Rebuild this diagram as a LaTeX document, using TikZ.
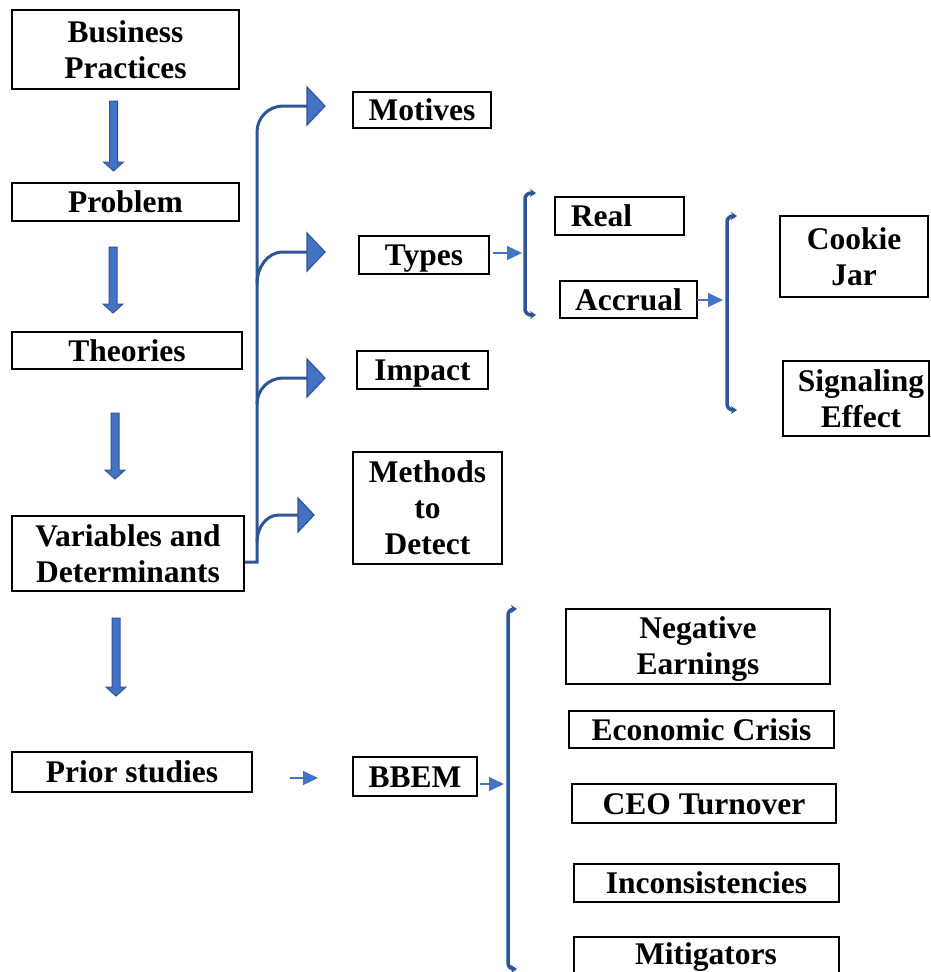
\documentclass[tikz,border=0pt]{standalone}
\usepackage{fontspec}
\setmainfont{Liberation Serif}
\usetikzlibrary{arrows.meta,calc}
\definecolor{dkblue}{HTML}{2F5597}
\definecolor{mdblue}{HTML}{4472C4}
\newcommand{\dnarr}[3]{%
  \filldraw[fill=mdblue,draw=dkblue,line width=1pt,line join=miter]
    ({#1-4},#2) -- ({#1+4},#2) -- ({#1+4},{#3-9}) -- ({#1+10},{#3-9})
    -- (#1,#3) -- ({#1-10},{#3-9}) -- ({#1-4},{#3-9}) -- cycle;}
\newcommand{\bigtri}[4]{% tip x, y, length, half-height
  \filldraw[fill=mdblue,draw=dkblue,line width=1.2pt,line join=miter]
    ({#1-#3},{#2-#4}) -- (#1,#2) -- ({#1-#3},{#2+#4}) -- cycle;}
\tikzset{
  box/.style={draw=black,line width=2pt,inner sep=0pt,align=center,
    font=\bfseries\fontsize{31.5}{36}\selectfont},
  one/.style={box,text height=27pt,text depth=6pt},
  trunk/.style={draw=dkblue,line width=3pt},
  brk/.style={draw=dkblue,line width=3.5pt,rounded corners=6pt,
    {Stealth[length=6pt 0 0,width=8pt 0 0]}-{Stealth[length=6pt 0 0,width=8pt 0 0]}},
  thin/.style={draw=mdblue,line width=1.3pt,-{Triangle[length=15pt 0 0,width=14pt 0 0]}}
}
\begin{document}
\begin{tikzpicture}[x=1pt,y=-1pt]
\clip (0,0) rectangle (930,972);
\fill[white] (0,0) rectangle (930,972);
% left column
\node[box,minimum width=227pt,minimum height=79pt] (bp) at (125.5,49.5) {Business\\Practices};
\node[one,minimum width=227pt,minimum height=38pt] (prob) at (125.5,202) {Problem};
\node[one,minimum width=230pt,minimum height=37pt] (theo) at (127,350.5) {Theories};
\node[box,minimum width=232pt,minimum height=75pt] (vard) at (128,553.5) {Variables and\\Determinants};
\node[one,minimum width=240pt,minimum height=40pt] (prior) at (132,772) {Prior studies};
% middle column
\node[one,minimum width=138pt,minimum height=36pt] (mot) at (422,110) {Motives};
\node[one,minimum width=130pt,minimum height=38pt] (types) at (424,255) {Types};
\node[one,minimum width=131pt,minimum height=38pt] (imp) at (422.5,370) {Impact};
\node[box,minimum width=149pt,minimum height=112pt] (meth) at (427.5,508) {Methods\\to\\Detect};
\node[one,minimum width=124pt,minimum height=39pt] (bbem) at (415,776.5) {BBEM};
% types column
\node[one,minimum width=129pt,minimum height=38pt] (real) at (619.5,216) {Real\hspace{36pt}};
\node[one,minimum width=137pt,minimum height=37pt] (accr) at (628.5,299.5) {Accrual};
\node[box,minimum width=148pt,minimum height=81pt] (cookie) at (854,256.5) {Cookie\\Jar};
\node[box,minimum width=146pt,minimum height=75pt] (sig) at (856,398.5) {\hspace{10pt}Signaling\\\hspace{10pt}Effect};
% BBEM items
\node[box,minimum width=264pt,minimum height=75pt] (neg) at (698,646.5) {\rule{0pt}{27pt}Negative\\Earnings};
\node[one,minimum width=265pt,minimum height=37pt] (eco) at (701.5,729.5) {Economic Crisis};
\node[one,minimum width=264pt,minimum height=39pt] (ceo) at (704,803.5) {CEO Turnover};
\node[one,minimum width=265pt,minimum height=38pt] (inc) at (706.5,883) {Inconsistencies};
\node[draw=black,line width=2pt,minimum width=265pt,minimum height=39pt] (mit) at (706.5,956.5) {};
\node[font=\bfseries\fontsize{31.5}{36}\selectfont,inner sep=0pt,anchor=base] (mittx) at (706,964) {Mitigators};
% down block arrows
\dnarr{113.5}{101}{171}
\dnarr{113}{247}{313}
\dnarr{115}{413}{479}
\dnarr{116}{618}{696}
% trunk from Variables and Determinants
\coordinate (tA) at (307,106);
\coordinate (tB) at (307,252);
\coordinate (tC) at (307,378);
\coordinate (tD) at (298,515);
\draw[trunk] ($(vard.east)+(0,8.5)$) -- (257,562) -- (257,132) to[out=90,in=180] (283,106) -- (tA);
\draw[trunk] (257,284) to[out=90,in=180] (283,252) -- (tB);
\draw[trunk] (257,404) to[out=90,in=180] (283,378) -- (tC);
\draw[trunk] (257,542) to[out=90,in=180] (279,515) -- (tD);
\bigtri{325}{106}{18}{19}
\bigtri{325}{252}{18}{19}
\bigtri{325}{378}{18}{19}
\bigtri{314}{515}{16}{17}
% brackets
\draw[brk] (536,193) -- (525,193) -- (525,315) -- (536,315);
\draw[brk] (737,216) -- (727,216) -- (727,410) -- (737,410);
\draw[brk] (517,609) -- (508,609) -- (508,969) -- (517,969);
% thin arrows
\coordinate (pEnd) at (318,778);
\draw[thin] ($(types.east)+(3,-2)$) -- (522,253);
\draw[thin] ($(accr.east)+(-1,0.5)$) -- (723,300);
\draw[thin] ($(prior.east)+(37,6)$) -- (pEnd);
\draw[thin] ($(bbem.east)+(2,7.5)$) -- (504,784);
\end{tikzpicture}
\end{document}
